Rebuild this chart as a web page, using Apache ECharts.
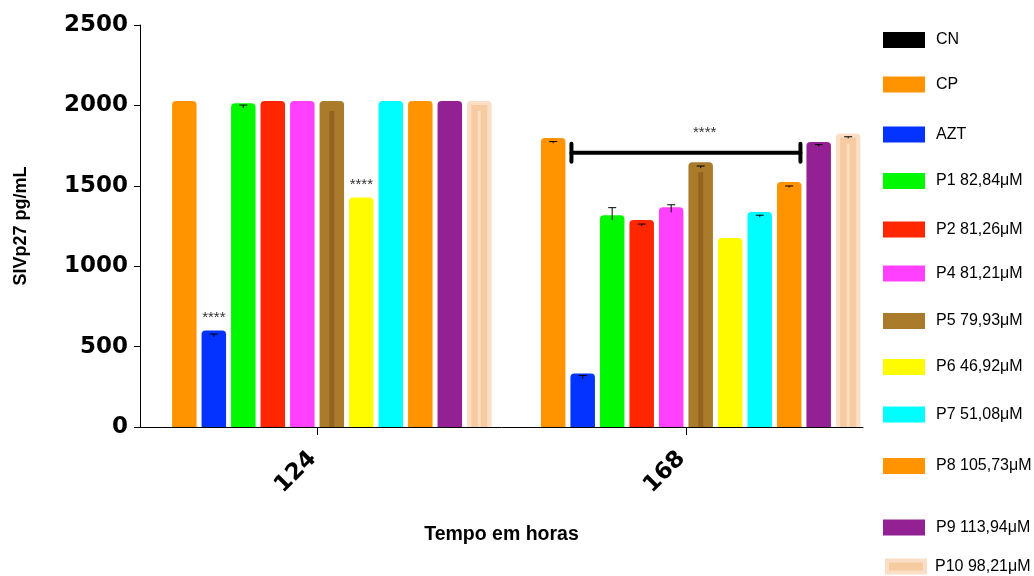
<!DOCTYPE html>
<html>
<head>
<meta charset="utf-8">
<style>
  html, body { margin: 0; padding: 0; background: #ffffff; }
  #chart { width: 1034px; height: 576px; }
</style>
<script src="https://cdn.jsdelivr.net/npm/echarts@6/dist/echarts.min.js"></script>
</head>
<body>
<div id="chart"></div>
<script>
// ---------------- DATA ----------------
const xCategories = ['124', '168'];
const seriesNames = ['CN', 'CP', 'AZT', 'P1 82,84μM', 'P2 81,26μM', 'P4 81,21μM',
  'P5 79,93μM', 'P6 46,92μM', 'P7 51,08μM', 'P8 105,73μM', 'P9 113,94μM', 'P10 98,21μM'];
const values124 = [0, 2027, 600, 2013, 2027, 2027, 2027, 1428, 2027, 2027, 2027, 2027];
const values168 = [0, 1797, 333, 1317, 1287, 1366, 1646, 1175, 1337, 1524, 1772, 1826];
const errUpper124 = [null, null, 578, 2002, null, null, null, null, null, null, null, null];
const errLower124 = [null, null, 560, 1985, null, null, null, null, null, null, null, null];
const errUpper168 = [null, 1775, 320, 1364, 1262, 1382, 1623, null, 1317, 1499, 1756, 1805];
const errLower168 = [null, 1765, 300, 1287, 1250, 1335, 1610, null, 1305, 1490, 1745, 1795];
const sig124 = ['', '', '****', '', '', '', '', '****', '', '', '', ''];
const sig168 = ['', '', '', '', '', '', '', '', '', '', '', ''];
const bracketGroup = 1;
const bracketFrom = 'AZT';
const bracketTo = 'P8 105,73μM';
const bracketValue = 1706;
const bracketLabel = '****';
const bracketLabelOver = 'P5 79,93μM';
const yTicks = [0, 500, 1000, 1500, 2000, 2500];

// ---------------- STYLE / LAYOUT ----------------
const colors = ['#000000', '#FF9300', '#0433FF', '#00F900', '#FF2600', '#FF40FF',
  '#A97B2B', '#FFFB00', '#00FDFF', '#FF9300', '#942193', '#FADFC6'];
const legendCenters = [40, 84.5, 134.5, 181, 229.5, 273.5, 321, 367, 414.5, 466, 527.5, 564.5];
const BAR_W = 24.5, GAP_PX = 5, PITCH = BAR_W + GAP_PX;
const N = seriesNames.length;
const stripeStyles = {
  6: [{ w: 5, color: '#93641F', inset: 10 }],
  11: [{ w: 16, color: '#F6CBA2', inset: 4 }, { w: 3, color: '#F9DEC4', inset: 10 }]
};
const tickFont = { fontFamily: 'DejaVu Sans', fontWeight: 'bold', fontSize: 23, color: '#000' };

const groupValues = [values124, values168];
const groupSig = [sig124, sig168];

function barCenter(api, gx, idx) {
  return api.coord([gx, 0])[0] + (idx - (N - 1) / 2) * PITCH;
}

const barSeries = seriesNames.map((name, i) => ({
  name: name,
  type: 'bar',
  barWidth: BAR_W,
  barGap: (GAP_PX / BAR_W * 100) + '%',
  itemStyle: { color: colors[i], borderRadius: [4, 4, 0, 0] },
  label: { show: false },
  z: 2,
  data: groupValues.map((arr, g) => {
    const item = { value: [g, arr[i]] };
    if (groupSig[g][i]) {
      item.label = { show: true, position: 'top', distance: 5, formatter: groupSig[g][i],
        fontFamily: 'Liberation Sans', fontSize: 15, color: '#333' };
    }
    return item;
  })
}));

// error bars
const errData = [];
[[errLower124, errUpper124], [errLower168, errUpper168]].forEach((pair, g) => {
  pair[1].forEach((up, i) => { if (up != null) errData.push([g, i, pair[0][i], up]); });
});
const errSeries = {
  type: 'custom', name: 'err', z: 5, silent: true,
  data: errData,
  renderItem: function (params, api) {
    const gx = api.value(0), idx = api.value(1);
    const cx = barCenter(api, gx, idx);
    const yLo = api.coord([gx, api.value(2)])[1];
    const yHi = api.coord([gx, api.value(3)])[1];
    return { type: 'group', children: [
      { type: 'line', shape: { x1: cx, y1: yLo, x2: cx, y2: yHi }, style: { stroke: '#000', lineWidth: 1 } },
      { type: 'line', shape: { x1: cx - 4, y1: yHi, x2: cx + 4, y2: yHi }, style: { stroke: '#000', lineWidth: 1 } }
    ]};
  }
};

// inner stripes for patterned bars
const stripeData = [];
groupValues.forEach((arr, g) => {
  Object.keys(stripeStyles).forEach(k => { stripeData.push([g, +k, arr[+k]]); });
});
const stripeSeries = {
  type: 'custom', name: 'stripe', z: 3, silent: true,
  data: stripeData,
  renderItem: function (params, api) {
    const gx = api.value(0), idx = api.value(1);
    const cx = barCenter(api, gx, idx);
    const yTop = api.coord([gx, api.value(2)])[1];
    const y0 = api.coord([gx, 0])[1];
    return { type: 'group', children: stripeStyles[idx].map(s => ({
      type: 'rect', shape: { x: cx - s.w / 2, y: yTop + s.inset, width: s.w, height: y0 - yTop - s.inset },
      style: { fill: s.color }
    }))};
  }
};

// bracket
const bracketSeries = {
  type: 'custom', name: 'bracket', z: 6, silent: true,
  data: [[bracketGroup, seriesNames.indexOf(bracketFrom), seriesNames.indexOf(bracketTo), bracketValue,
    seriesNames.indexOf(bracketLabelOver)]],
  renderItem: function (params, api) {
    const gx = api.value(0);
    const x1 = barCenter(api, gx, api.value(1)) - BAR_W / 2 + 1;
    const x2 = barCenter(api, gx, api.value(2)) + BAR_W / 2 - 1;
    const y = api.coord([gx, api.value(3)])[1];
    const tx = barCenter(api, gx, api.value(4)) + 4;
    const st = { stroke: '#000', lineWidth: 4, lineCap: 'round' };
    return { type: 'group', children: [
      { type: 'line', shape: { x1: x1, y1: y, x2: x2, y2: y }, style: st },
      { type: 'line', shape: { x1: x1, y1: y - 9, x2: x1, y2: y + 9 }, style: st },
      { type: 'line', shape: { x1: x2, y1: y - 9, x2: x2, y2: y + 9 }, style: st },
      { type: 'text', x: tx, y: y - 20, style: { text: bracketLabel, fontFamily: 'Liberation Sans', fontSize: 15,
        fill: '#333', align: 'center', verticalAlign: 'middle' } }
    ]};
  }
};

const legends = seriesNames.map((name, i) => {
  const lg = {
    data: [name], left: 878, top: legendCenters[i] - 8 - 5, orient: 'vertical',
    icon: 'rect', itemWidth: 42, itemHeight: 16, selectedMode: false,
    textStyle: { fontFamily: 'Liberation Sans', fontSize: 16, color: '#000', padding: [0, 0, 0, 6] }
  };
  if (i === 11) {
    lg.itemWidth = 38; lg.itemHeight = 12; lg.left = 880; lg.top = legendCenters[i] - 6 - 5;
    lg.textStyle = Object.assign({}, lg.textStyle, { padding: [0, 0, 0, 5] });
    lg.itemStyle = { color: '#F6CBA2', borderColor: '#FADFC6', borderWidth: 4 };
  }
  return lg;
});

const chart = echarts.init(document.getElementById('chart'), null, { renderer: 'canvas' });
chart.setOption({
  animation: false,
  backgroundColor: '#ffffff',
  legend: legends,
  grid: { left: 140, right: 171, top: 25, bottom: 149, containLabel: false, outerBoundsMode: 'none' },
  xAxis: {
    type: 'value', min: -0.48, max: 1.48,
    name: 'Tempo em horas', nameLocation: 'middle', nameGap: 98,
    nameTextStyle: { fontFamily: 'Liberation Sans', fontWeight: 'bold', fontSize: 19.5, color: '#000' },
    axisLine: { show: true, onZero: false, lineStyle: { color: '#000', width: 1 } },
    axisTick: { show: true, length: 8, customValues: [0, 1], lineStyle: { color: '#000' } },
    axisLabel: Object.assign({ customValues: [0, 1], rotate: 45, margin: 24, padding: [0, 6, 0, 0],
      formatter: v => xCategories[Math.round(v)] }, tickFont),
    splitLine: { show: false }
  },
  yAxis: {
    type: 'value', min: 0, max: 2500, interval: 500,
    name: 'SIVp27 pg/mL', nameLocation: 'middle', nameGap: 110,
    nameTextStyle: { fontFamily: 'Liberation Sans', fontWeight: 'bold', fontSize: 18, color: '#000' },
    axisLine: { show: true, onZero: false, lineStyle: { color: '#000', width: 1 } },
    axisTick: { show: true, length: 6, lineStyle: { color: '#000' } },
    axisLabel: Object.assign({ margin: 12, formatter: v => yTicks.indexOf(v) >= 0 ? String(v) : '' }, tickFont),
    splitLine: { show: false }
  },
  series: barSeries.concat([stripeSeries, errSeries, bracketSeries])
});
</script>
</body>
</html>
